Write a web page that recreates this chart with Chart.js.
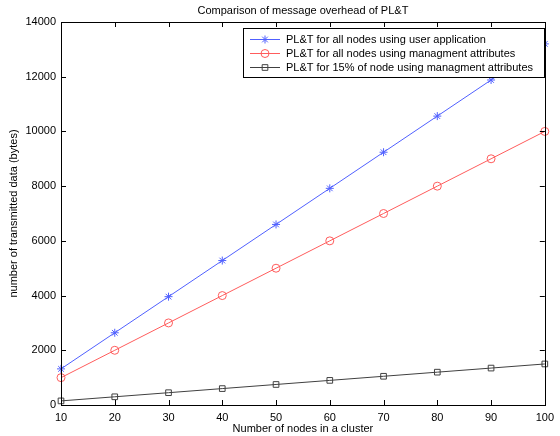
<!DOCTYPE html>
<html>
<head>
<meta charset="utf-8">
<script src="https://cdn.jsdelivr.net/npm/chart.js@4"></script>
<style>
  html, body { margin: 0; padding: 0; background: #fff; }
</style>
</head>
<body>
<canvas id="chartCanvas" width="560" height="436"></canvas>
<script>
const nodes = [10, 20, 30, 40, 50, 60, 70, 80, 90, 100]
const userApp = [1320, 2640, 3960, 5280, 6600, 7920, 9240, 10560, 11880, 13200]
const mgmtAll = [1000, 2000, 3000, 4000, 5000, 6000, 7000, 8000, 9000, 10000]
const mgmt15 = [150, 300, 450, 600, 750, 900, 1050, 1200, 1350, 1500]

const seriesNames = [
    "PL&T for all nodes using user application",
    "PL&T for all nodes using managment attributes",
    "PL&T for 15% of node using managment attributes"
]
const colors = ["#5060ff", "#ff5c5c", "#404040"]
const shapes = ["star", "circle", "rect"]

const FAMILY = "'Liberation Sans', Arial, sans-serif"
const FONT = "11px " + FAMILY

function pts(vals){
    return nodes.map((n, i) => ({x: n, y: vals[i]}))
}

// box, inward ticks, title, axis titles, legend
const matlabLook = {
    id: "matlabLook",
    afterDraw(chart){
        const ctx = chart.ctx
        const a = chart.chartArea
        const xs = chart.scales.x
        const ys = chart.scales.y
        ctx.save()
        ctx.strokeStyle = "#000"
        ctx.lineWidth = 1
        ctx.strokeRect(Math.round(a.left) + 0.5, Math.round(a.top) + 0.5,
            Math.round(a.right - a.left), Math.round(a.bottom - a.top))

        ctx.beginPath()
        xs.ticks.forEach(t => {
            const px = Math.round(xs.getPixelForValue(t.value)) + 0.5
            ctx.moveTo(px, a.bottom); ctx.lineTo(px, a.bottom - 5)
            ctx.moveTo(px, a.top); ctx.lineTo(px, a.top + 5)
        })
        ys.ticks.forEach(t => {
            const py = Math.round(ys.getPixelForValue(t.value)) + 0.5
            ctx.moveTo(a.left, py); ctx.lineTo(a.left + 5, py)
            ctx.moveTo(a.right, py); ctx.lineTo(a.right - 5, py)
        })
        ctx.stroke()

        ctx.fillStyle = "#000"
        ctx.font = FONT
        ctx.textAlign = "center"
        ctx.textBaseline = "middle"
        ctx.fillText("Comparison of message overhead of PL&T", (a.left + a.right) / 2, 11)
        ctx.fillText("Number of nodes in a cluster", (a.left + a.right) / 2, 429)

        ctx.save()
        ctx.translate(14, (a.top + a.bottom) / 2)
        ctx.rotate(-Math.PI / 2)
        ctx.fillText("number of transmitted data (bytes)", 0, 0)
        ctx.restore()

        // legend
        const lx = 243, ly = 28, lw = 301, lh = 49
        ctx.fillStyle = "#fff"
        ctx.fillRect(lx, ly, lw, lh)
        ctx.strokeStyle = "#000"
        ctx.strokeRect(lx + 0.5, ly + 0.5, lw, lh)
        seriesNames.forEach((name, i) => {
            const y = ly + 11 + i * 14
            ctx.strokeStyle = colors[i]
            ctx.beginPath()
            ctx.moveTo(lx + 7, y + 0.5); ctx.lineTo(lx + 37, y + 0.5)
            ctx.stroke()
            ctx.fillStyle = "rgba(0,0,0,0)"
            Chart.helpers.drawPoint(ctx, {pointStyle: shapes[i], radius: 4, borderWidth: 1}, lx + 22, y + 0.5)
            ctx.fillStyle = "#000"
            ctx.textAlign = "left"
            ctx.fillText(name, lx + 43, y + 1)
        })
        ctx.restore()
    }
}

new Chart(document.getElementById("chartCanvas"), {
    type: "line",
    data: {
        datasets: [userApp, mgmtAll, mgmt15].map((vals, i) => ({
            label: seriesNames[i],
            data: pts(vals),
            borderColor: colors[i],
            backgroundColor: "transparent",
            borderWidth: 1,
            pointStyle: shapes[i],
            pointRadius: 4,
            pointBorderWidth: 1,
            pointBorderColor: colors[i],
            pointBackgroundColor: "transparent",
            tension: 0,
            clip: false
        }))
    },
    options: {
        responsive: false,
        animation: false,
        devicePixelRatio: 1,
        layout: { padding: { left: 0, top: 22, right: 12, bottom: 0 } },
        plugins: { legend: { display: false }, tooltip: { enabled: false } },
        scales: {
            x: {
                type: "linear",
                min: 10, max: 100,
                grid: { display: false, drawTicks: false },
                border: { display: false },
                ticks: { stepSize: 10, padding: 6, color: "#000",
                    font: { family: FAMILY, size: 11 },
                    callback: v => String(v) },
                afterFit(s){ s.height = 31 }
            },
            y: {
                min: 0, max: 14000,
                grid: { display: false, drawTicks: false },
                border: { display: false },
                ticks: { stepSize: 2000, padding: 5, color: "#000",
                    font: { family: FAMILY, size: 11 },
                    callback: v => String(v) },
                afterFit(s){ s.width = 61 }
            }
        }
    },
    plugins: [matlabLook]
})
</script>
</body>
</html>
